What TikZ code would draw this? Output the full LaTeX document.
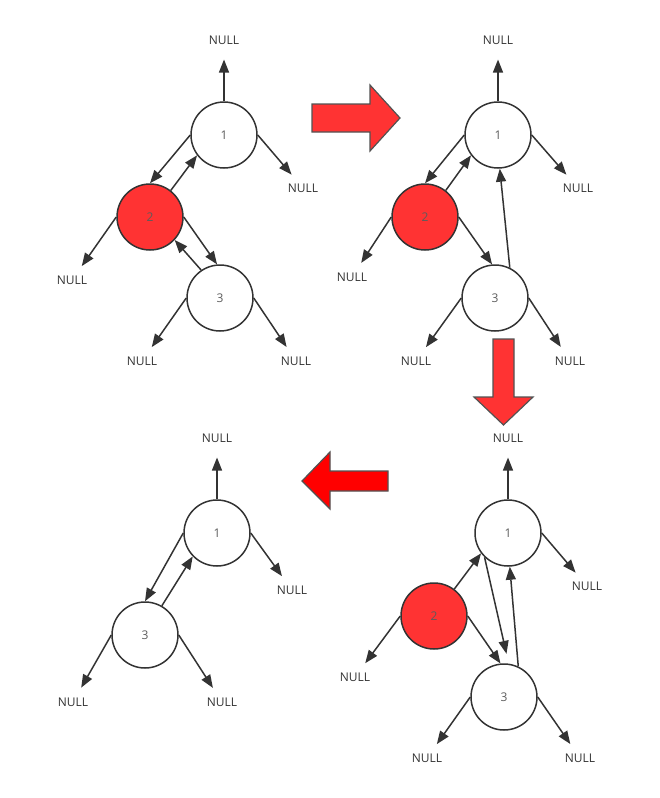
\documentclass[tikz,border=0pt]{standalone}
\usepackage{fontspec}
\setmainfont{Open Sans}
\usetikzlibrary{arrows.meta}
\definecolor{ink}{HTML}{333333}
\definecolor{hot}{HTML}{FF3333}
\begin{document}
\begin{tikzpicture}[x=1pt,y=-1pt,
	every node/.style={font=\fontsize{12}{14}\selectfont,text=ink,inner sep=2pt},
	nd/.style={draw=ink,circle,minimum size=66pt,line width=1.5pt,fill=white,text=ink!80},
	rd/.style={nd,fill=hot},
	ar/.style={draw=ink,line width=1.5pt,-{Triangle[length=13pt,width=10pt]}},
	nl/.style={ar,shorten >=9pt},
	up/.style={ar,shorten >=13pt},
	big/.style={draw=ink!85,line width=1.2pt,line join=miter}]
	\useasboundingbox (0,0) rectangle (660,798);
	% before
	\node[nd] (a1) at (224,135){1};
	\node[rd] (a2) at (150,217){2};
	\node[nd] (a3) at (220,298){3};
	\node (a0) at (224,40){NULL};
	\node (a1r) at (303,188){NULL};
	\node (a2l) at (72,280){NULL};
	\node (a3l) at (142,361){NULL};
	\node (a3r) at (296,361){NULL};
	\draw[up] (a1.north)--(a0);
	\draw[nl] (a1.east)--(a1r);
	\draw[nl] (a2.west)--(a2l);
	\draw[nl] (a3.west)--(a3l);
	\draw[nl] (a3.east)--(a3r);
	\draw[ar] (a1.west)--(a2.north);
	\draw[ar] (a2.52)--(a1.217);
	\draw[ar] (a2.east)--(a3.95);
	\draw[ar] (a3.124)--(a2.-43);
	% 3 points up to 1
	\node[nd] (b1) at (498,135){1};
	\node[rd] (b2) at (425,217){2};
	\node[nd] (b3) at (495,298){3};
	\node (b0) at (498,40){NULL};
	\node (b1r) at (578,188){NULL};
	\node (b2l) at (352,277){NULL};
	\node (b3l) at (416,361){NULL};
	\node (b3r) at (570,361){NULL};
	\draw[up] (b1.north)--(b0);
	\draw[nl] (b1.east)--(b1r);
	\draw[nl] (b2.west)--(b2l);
	\draw[nl] (b3.west)--(b3l);
	\draw[nl] (b3.east)--(b3r);
	\draw[ar] (b1.west)--(b2.north);
	\draw[ar] (b2.52)--(b1.217);
	\draw[ar] (b2.east)--(b3.95);
	\draw[ar] (b3.64)--(b1.-87);
	% 1 points down to 3
	\node[nd] (c1) at (508,533){1};
	\node[rd] (c2) at (434,616){2};
	\node[nd] (c3) at (504,697){3};
	\node (c0) at (508,438){NULL};
	\node (c1r) at (587,586){NULL};
	\node (c2l) at (355,677){NULL};
	\node (c3l) at (427,758){NULL};
	\node (c3r) at (580,758){NULL};
	\draw[up] (c1.north)--(c0);
	\draw[nl] (c1.east)--(c1r);
	\draw[nl] (c2.west)--(c2l);
	\draw[nl] (c3.west)--(c3l);
	\draw[nl] (c3.east)--(c3r);
	\draw[ar] (c2.53)--(c1.217);
	\draw[ar,shorten >=10pt] (c1.226)--(c3.82);
	\draw[ar] (c2.east)--(c3.96);
	\draw[ar] (c3.65)--(c1.-87);
	% after
	\node[nd] (d1) at (217,533){1};
	\node[nd] (d3) at (145,635){3};
	\node (d0) at (217,438){NULL};
	\node (d1r) at (292,590){NULL};
	\node (d3l) at (73,702){NULL};
	\node (d3r) at (222,702){NULL};
	\draw[up] (d1.north)--(d0);
	\draw[nl] (d1.east)--(d1r);
	\draw[nl] (d3.west)--(d3l);
	\draw[nl] (d3.east)--(d3r);
	\draw[ar] (d1.west)--(d3.north);
	\draw[ar] (d3.60)--(d1.224);
	% big arrows
	\draw[big,fill=hot] (312,104)--(370,104)--(370,85)--(400,118)--(370,151)--(370,132)--(312,132)--cycle;
	\draw[big,fill=hot] (493,339)--(514,339)--(514,397)--(533,397)--(503.5,425)--(474,397)--(493,397)--cycle;
	\draw[big,fill=red] (388,471)--(330,471)--(330,452)--(302,481)--(330,509)--(330,491)--(388,491)--cycle;
\end{tikzpicture}
\end{document}
